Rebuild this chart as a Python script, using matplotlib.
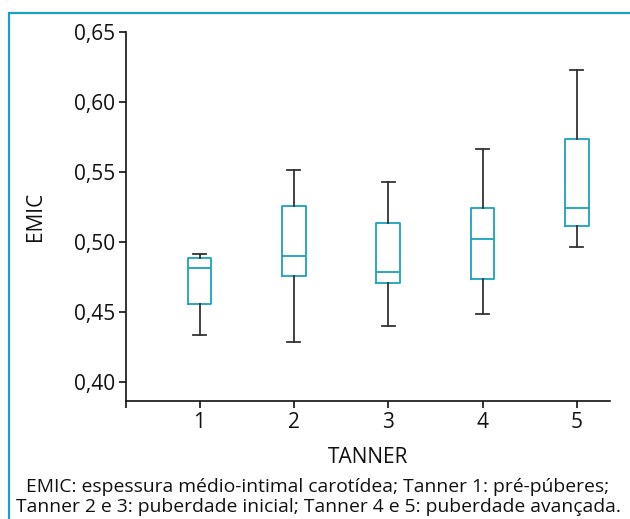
import matplotlib
matplotlib.use("Agg")
import matplotlib.pyplot as plt
from matplotlib.patches import Rectangle
from matplotlib.ticker import FuncFormatter

plt.rcParams['font.family'] = ['Open Sans', 'DejaVu Sans']

categories = [1, 2, 3, 4, 5]
whislo = [0.4334, 0.4284, 0.4400, 0.4484, 0.4964]
q1 = [0.4553, 0.4757, 0.4705, 0.4734, 0.5112]
med = [0.4814, 0.4896, 0.4784, 0.5019, 0.5239]
q3 = [0.4881, 0.5257, 0.5134, 0.5243, 0.5731]
whishi = [0.4912, 0.5512, 0.5424, 0.5664, 0.6229]
yticks = [0.40, 0.45, 0.50, 0.55, 0.60, 0.65]

caption = ("EMIC: espessura médio-intimal carotídea; Tanner 1: pré-púberes;\n"
           "Tanner 2 e 3: puberdade inicial; Tanner 4 e 5: puberdade avançada.")

W, H = 630, 519
fig = plt.figure(figsize=(W / 100, H / 100), dpi=100)
ax = fig.add_axes([126 / W, 1 - 401 / H, (609.7 - 126) / W, (401 - 31.7) / H])

box_c = '#1AA3BC'
wh_c = '#333333'
stats = []
for i, c in enumerate(categories):
    stats.append(dict(label=str(c), whislo=whislo[i], q1=q1[i], med=med[i],
                      q3=q3[i], whishi=whishi[i], fliers=[]))
ax.bxp(stats, positions=categories, widths=0.25, showfliers=False,
       boxprops=dict(color=box_c, linewidth=1.3),
       medianprops=dict(color=box_c, linewidth=1.3),
       whiskerprops=dict(color=wh_c, linewidth=1.3),
       capprops=dict(color=wh_c, linewidth=1.3),
       capwidths=0.14)

ylo = 0.40 - (401 - 381.7) * 0.05 / 70
ax.set_ylim(ylo, 0.65)
x0 = 1 - 73.3 / 94
x1 = 5 + 32.7 / 94
ax.set_xlim(x0, x1)
ax.set_yticks(yticks)
ax.yaxis.set_major_formatter(FuncFormatter(lambda v, p: f"{v:.2f}".replace('.', ',')))
ax.set_xticks([x0] + categories)
ax.set_xticklabels([''] + [str(c) for c in categories])
ax.spines['top'].set_visible(False)
ax.spines['right'].set_visible(False)
for s in ('left', 'bottom'):
    ax.spines[s].set_linewidth(1.2)
    ax.spines[s].set_color('#111111')
ax.tick_params(axis='both', labelsize=15, length=5, width=1.2, color='#111111',
               labelcolor='#111111', pad=3)
ax.set_ylabel('EMIC', fontsize=15, color='#111111', labelpad=20)
ax.set_xlabel('TANNER', fontsize=15, color='#111111', labelpad=10)

fig.text(318 / W, 1 - 497 / H, caption, ha='center', va='center', fontsize=13.9,
         color='#111111', linespacing=1.18)

frame = Rectangle((8.7 / W, -0.1), 1.2, 1 - 12.7 / H + 0.1, transform=fig.transFigure,
                  fill=False, edgecolor='#1AA0C0', linewidth=1.6)
fig.patches.append(frame)

fig.savefig('out.png', dpi=100)
